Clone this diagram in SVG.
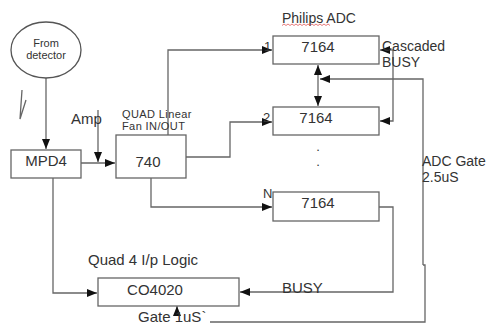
<svg xmlns="http://www.w3.org/2000/svg" width="500" height="324" viewBox="0 0 500 324">
<defs>
<marker id="ah" markerWidth="10" markerHeight="8" refX="10" refY="4" orient="auto" markerUnits="userSpaceOnUse">
<path d="M0,0 L10,4 L0,8 Z" fill="#111"/>
</marker>
<style>
.box{fill:#fff;stroke:#666;stroke-width:1.3}
.ln{fill:none;stroke:#666;stroke-width:1.3}
.t{font-family:"Liberation Sans",Arial,sans-serif;fill:#333}
</style>
</defs>
<rect width="500" height="324" fill="#fff"/>
<g id="connectors">
<path class="ln" d="M46,78 V149" marker-end="url(#ah)"/>
<path class="ln" d="M98,110 V162" marker-end="url(#ah)"/>
<path class="ln" d="M81,163 H115" marker-end="url(#ah)"/>
<path class="ln" d="M168,135 V50 H272" marker-end="url(#ah)"/>
<path class="ln" d="M186,157 H230 V122 H272" marker-end="url(#ah)"/>
<path class="ln" d="M151,178 V207 H272" marker-end="url(#ah)"/>
<path class="ln" d="M393,50 H380" marker-end="url(#ah)"/>
<path class="ln" d="M393,50 V121 H380" marker-end="url(#ah)"/>
<path class="ln" d="M318,80 V65" marker-end="url(#ah)"/>
<path class="ln" d="M318,80 V106" marker-end="url(#ah)"/>
<path class="ln" d="M423,265 V79 H320" marker-end="url(#ah)"/>
<path class="ln" d="M423,265 H425 V322 H210"/>
<path class="ln" d="M177,316 V306" marker-end="url(#ah)"/>
<path class="ln" d="M379,207 H393 V292 H240" marker-end="url(#ah)"/>
<path class="ln" d="M53,178 V293 H97" marker-end="url(#ah)"/>
<polyline class="ln" points="22,90 20,119 26,100"/>
</g>
<g id="detector">
<ellipse cx="46" cy="50" rx="35" ry="28" fill="#fff" stroke="#555" stroke-width="1.3"/>
<text class="t" x="46" y="47" font-size="11" text-anchor="middle">From</text>
<text class="t" x="46" y="59" font-size="11" text-anchor="middle">detector</text>
</g>
<g id="mpd4">
<rect class="box" x="11" y="150" width="70" height="28"/>
<text class="t" x="46" y="166" font-size="15" text-anchor="middle">MPD4</text>
</g>
<g id="fan740">
<rect class="box" x="116" y="135" width="70" height="43"/>
<text class="t" x="148" y="167" font-size="15" text-anchor="middle">740</text>
<text class="t" x="122" y="118" font-size="11" letter-spacing="0.4">QUAD Linear</text>
<text class="t" x="122" y="130" font-size="11" letter-spacing="0.4">Fan IN/OUT</text>
</g>
<g id="amp">
<text class="t" x="71" y="124" font-size="15">Amp</text>
</g>
<g id="adc1">
<rect class="box" x="273" y="36" width="106" height="28"/>
<text class="t" x="318" y="52" font-size="15" text-anchor="middle">7164</text>
<text class="t" x="264" y="51" font-size="13">1</text>
</g>
<g id="adc2">
<rect class="box" x="273" y="107" width="106" height="28"/>
<text class="t" x="316" y="123" font-size="15" text-anchor="middle">7164</text>
<text class="t" x="263" y="122" font-size="13">2</text>
</g>
<g id="adcN">
<rect class="box" x="273" y="192" width="106" height="29"/>
<text class="t" x="318" y="208" font-size="15" text-anchor="middle">7164</text>
<text class="t" x="263" y="198" font-size="13">N</text>
</g>
<g id="dots">
<text class="t" x="318" y="151" font-size="13" text-anchor="middle">.</text>
<text class="t" x="318" y="166" font-size="13" text-anchor="middle">.</text>
</g>
<g id="philips">
<text class="t" x="282" y="23" font-size="14">Philips ADC</text>
<path d="M282,25.5 l2,-1.5 l2,1.5 l2,-1.5 l2,1.5 l2,-1.5 l2,1.5 l2,-1.5 l2,1.5 l2,-1.5 l2,1.5 l2,-1.5 l2,1.5 l2,-1.5 l2,1.5 l2,-1.5 l2,1.5 l2,-1.5 l2,1.5 l2,-1.5 l2,1.5 l2,-1.5 l2,1.5 l2,-1.5 l2,1.5" fill="none" stroke="#d44" stroke-width="0.7"/>
</g>
<g id="cascaded">
<text class="t" x="382" y="51" font-size="14">Cascaded</text>
<text class="t" x="382" y="67" font-size="14">BUSY</text>
</g>
<g id="adcgate">
<text class="t" x="422" y="166" font-size="14">ADC Gate</text>
<text class="t" x="422" y="182" font-size="14">2.5uS</text>
</g>
<g id="co4020">
<rect class="box" x="98" y="278" width="141" height="28"/>
<text class="t" x="155" y="295" font-size="15" text-anchor="middle">CO4020</text>
<text class="t" x="88" y="265" font-size="15">Quad 4 I/p Logic</text>
</g>
<g id="busy">
<text class="t" x="282" y="293" font-size="15">BUSY</text>
</g>
<g id="gate">
<text class="t" x="138" y="322" font-size="15">Gate 1uS`</text>
</g>
</svg>
